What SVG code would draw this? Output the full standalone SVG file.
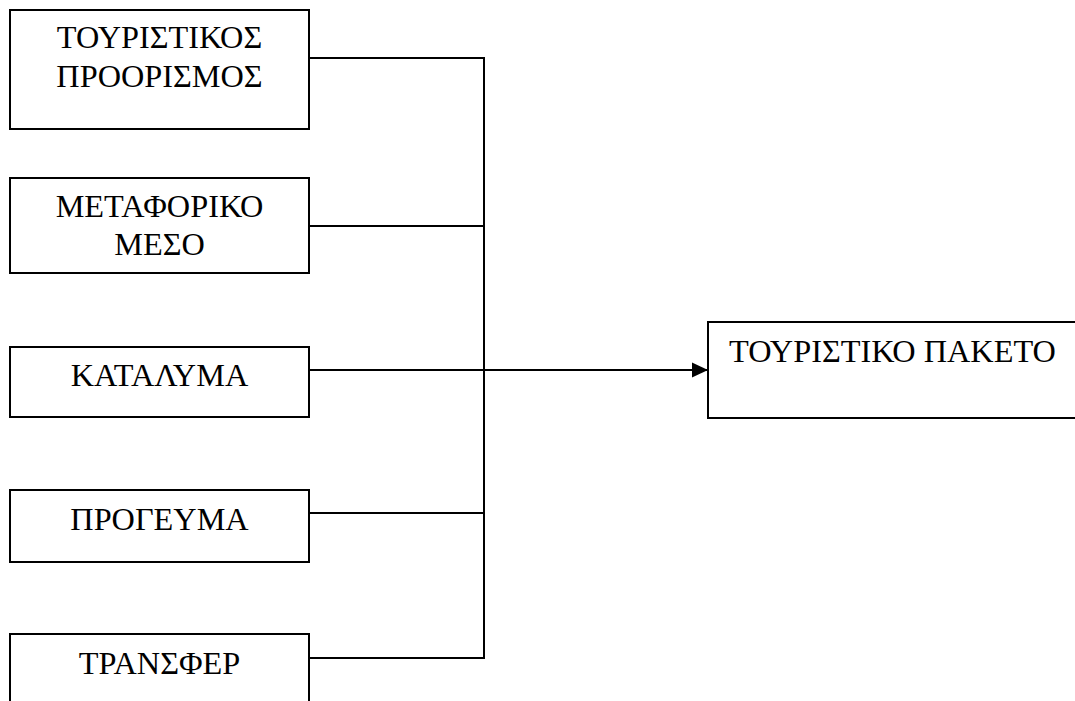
<svg xmlns="http://www.w3.org/2000/svg" width="1075" height="701" viewBox="0 0 1075 701">
  <style>
    .box { fill: #ffffff; stroke: #000000; stroke-width: 2; }
    .lbl { font-family: "Liberation Serif", "Times New Roman", serif; font-size: 32.3px; fill: #000000; text-anchor: middle; }
    .lbl-left { font-family: "Liberation Serif", "Times New Roman", serif; font-size: 32.3px; fill: #000000; }
    .wire { fill: none; stroke: #000000; stroke-width: 2; }
  </style>
  <defs>
    <marker id="arrowhead" markerWidth="16" markerHeight="16" refX="16" refY="8" orient="auto" markerUnits="userSpaceOnUse">
      <path d="M0,0.5 L16,8 L0,15.5 Z" fill="#000000"/>
    </marker>
  </defs>
  <rect width="1075" height="701" fill="#ffffff"/>

  <!-- connectors: each input joins the vertical bus, which feeds the package box -->
  <g id="connectors">
    <path class="wire" d="M309,58 H484 V658 H309"/>
    <path class="wire" d="M309,226 H484"/>
    <path class="wire" d="M309,370 H484"/>
    <path class="wire" d="M309,513 H484"/>
    <path class="wire" d="M484,370 H708" marker-end="url(#arrowhead)"/>
  </g>

  <g id="node-destination">
    <rect class="box" x="10" y="10" width="299" height="119"/>
    <text class="lbl" x="159.5" y="48">ΤΟΥΡΙΣΤΙΚΟΣ</text>
    <text class="lbl" x="159.5" y="87">ΠΡΟΟΡΙΣΜΟΣ</text>
  </g>

  <g id="node-transport">
    <rect class="box" x="10" y="178" width="299" height="95"/>
    <text class="lbl" x="159.5" y="217">ΜΕΤΑΦΟΡΙΚΟ</text>
    <text class="lbl" x="159.5" y="255">ΜΕΣΟ</text>
  </g>

  <g id="node-accommodation">
    <rect class="box" x="10" y="347" width="299" height="70"/>
    <text class="lbl" x="159.5" y="386">ΚΑΤΑΛΥΜΑ</text>
  </g>

  <g id="node-breakfast">
    <rect class="box" x="10" y="490" width="299" height="72"/>
    <text class="lbl" x="159.5" y="530">ΠΡΟΓΕΥΜΑ</text>
  </g>

  <g id="node-transfer">
    <rect class="box" x="10" y="634" width="299" height="80"/>
    <text class="lbl" x="159.5" y="674">ΤΡΑΝΣΦΕΡ</text>
  </g>

  <g id="node-package">
    <rect class="box" x="708" y="322" width="380" height="96"/>
    <text class="lbl-left" x="729" y="362">ΤΟΥΡΙΣΤΙΚΟ ΠΑΚΕΤΟ</text>
  </g>
</svg>
